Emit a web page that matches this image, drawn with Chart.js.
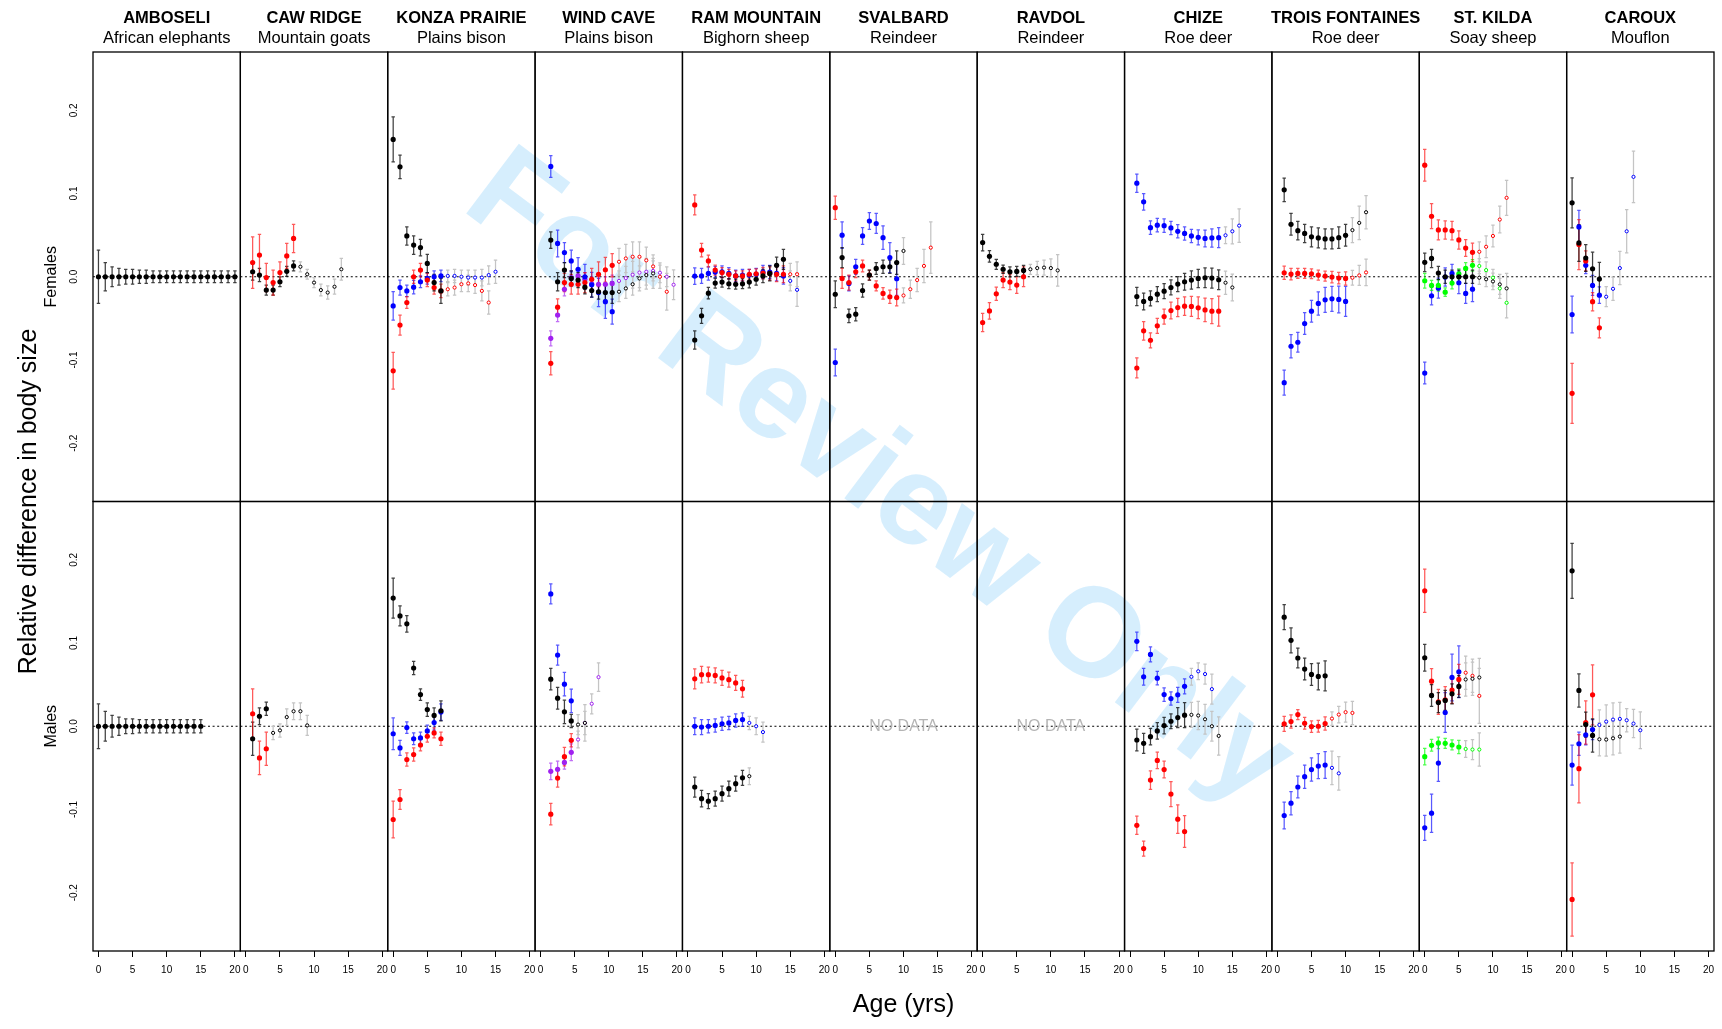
<!DOCTYPE html>
<html>
<head>
<meta charset="utf-8">
<title>Relative difference in body size by age</title>
<script src="https://cdn.jsdelivr.net/npm/chart.js@4.4.1/dist/chart.umd.min.js"></script>
<style>
  html, body { margin: 0; padding: 0; background: #fff; }
  #grid { display: block; }
</style>
</head>
<body>
<canvas id="grid" width="1722" height="1029"></canvas>
<script>
/* ---------- panels & axes ---------- */
const SITES   = ["AMBOSELI","CAW RIDGE","KONZA PRAIRIE","WIND CAVE","RAM MOUNTAIN","SVALBARD","RAVDOL","CHIZE","TROIS FONTAINES","ST. KILDA","CAROUX"];
const SPECIES = ["African elephants","Mountain goats","Plains bison","Plains bison","Bighorn sheep","Reindeer","Reindeer","Roe deer","Roe deer","Soay sheep","Mouflon"];
const SEXES   = ["Females","Males"];
const AGE_TICKS  = [0, 5, 10, 15, 20];
const SIZE_TICKS = [-0.2, -0.1, 0, 0.1, 0.2];
const NO_DATA_COLS = [5, 6];   // male rows without data

/* ---------- series: [age, mean, half CI] ----------
   "...Few" arrays are the ages with few animals (hollow points) */

// Amboseli
const ambF_k = [[0,0,.032],[1,0,.017],[2,0,.012],[3,0,.010],[4,0,.009],[5,0,.009],[6,0,.008],[7,0,.008],[8,0,.007],[9,0,.007],[10,0,.007],[11,0,.007],[12,0,.007],[13,0,.007],[14,0,.007],[15,0,.007],[16,0,.007],[17,0,.007],[18,0,.007],[19,0,.007],[20,0,.007]];
const ambM_k = [[0,0,.027],[1,0,.018],[2,0,.013],[3,0,.011],[4,0,.009],[5,0,.009],[6,0,.008],[7,0,.008],[8,0,.008],[9,0,.008],[10,0,.008],[11,0,.008],[12,0,.008],[13,0,.008],[14,0,.008],[15,0,.008]];

// Caw Ridge
const cawF_k    = [[1,.006,.010],[2,.002,.008],[3,-.016,.006],[4,-.016,.006],[5,-.006,.006],[6,.0065,.006],[7,.013,.006]];
const cawF_kFew = [[8,.012,.006],[9,.003,.006],[10,-.007,.006],[11,-.016,.007],[12,-.019,.008],[13,-.012,.009],[14,.009,.013]];
const cawF_r    = [[1,.017,.031],[2,.026,.025],[3,-.001,.017],[4,-.007,.015],[5,.005,.013],[6,.025,.015],[7,.046,.017]];
const cawM_k    = [[1,-.015,.020],[2,.012,.010],[3,.021,.008]];
const cawM_r    = [[1,.015,.030],[2,-.038,.020],[3,-.027,.020]];
const cawM_kFew = [[4,-.008,.008],[5,-.005,.008],[6,.011,.010],[7,.018,.010],[8,.018,.010],[9,.001,.012]];

// Konza Prairie
const konzaF_k    = [[0,.165,.027],[1,.132,.014],[2,.049,.011],[3,.038,.011],[4,.035,.010],[5,.016,.011],[6,-.007,.010],[7,-.017,.015]];
const konzaF_r    = [[0,-.113,.022],[1,-.058,.012],[2,-.031,.007],[3,0,.008],[4,.008,.008],[5,-.004,.008],[6,-.013,.008],[7,-.017,.008]];
const konzaF_rFew = [[8,-.015,.008],[9,-.013,.009],[10,-.009,.009],[11,-.008,.010],[12,-.010,.010],[13,-.017,.012],[14,-.031,.014]];
const konzaF_b    = [[0,-.035,.017],[1,-.013,.009],[2,-.017,.007],[3,-.0125,.008],[4,-.006,.007],[5,-.002,.007],[6,0,.007],[7,.001,.007]];
const konzaF_bFew = [[8,.001,.007],[9,.001,.008],[10,0,.008],[11,-.001,.009],[12,-.001,.009],[13,-.001,.010],[14,.002,.011],[15,.006,.014]];
const konzaM_k = [[0,.154,.024],[1,.1325,.012],[2,.123,.010],[3,.070,.008],[4,.038,.007],[5,.020,.008],[6,.013,.009],[7,.0185,.012]];
const konzaM_b = [[0,-.009,.019],[1,-.026,.009],[2,-.0016,.007],[3,-.015,.007],[4,-.014,.007],[5,-.0056,.007],[6,.0044,.009],[7,.017,.010]];
const konzaM_r = [[0,-.112,.022],[1,-.088,.012],[2,-.040,.008],[3,-.034,.008],[4,-.0225,.007],[5,-.012,.007],[6,-.008,.006],[7,-.015,.008]];

// Wind Cave
const windF_k    = [[1.5,.044,.010],[2.5,-.006,.011],[3.5,.008,.009],[4.5,-.002,.009],[5.5,-.004,.009],[6.5,-.0125,.008],[7.5,-.0165,.008],[8.5,-.018,.009],[9.5,-.019,.009],[10.5,-.019,.013]];
const windF_kFew = [[11.5,-.018,.012],[12.5,-.014,.012],[13.5,-.009,.013],[14.5,-.002,.015],[15.5,.002,.017],[16.5,.004,.018]];
const windF_b    = [[1.5,.1325,.013],[2.5,.040,.016],[3.5,.029,.012],[4.5,.019,.013],[5.5,.009,.014],[6.5,0,.015],[7.5,-.0096,.015],[8.5,-.019,.017],[9.5,-.030,.020],[10.5,-.042,.015]];
const windF_r    = [[1.5,-.104,.014],[2.5,-.0365,.010],[3.5,-.007,.011],[4.5,-.009,.012],[5.5,-.009,.012],[6.5,-.007,.012],[7.5,-.003,.013],[8.5,.003,.015],[9.5,.0084,.015],[10.5,.0137,.014]];
const windF_rFew = [[11.5,.018,.016],[12.5,.022,.017],[13.5,.024,.018],[14.5,.024,.018],[15.5,.0197,.016],[16.5,.0124,.014],[17.5,0,.014],[18.5,-.018,.022]];
const windF_p    = [[1.5,-.074,.009],[2.5,-.046,.008],[3.5,-.015,.008],[4.5,-.001,.008],[5.5,.001,.008],[6.5,-.003,.008],[7.5,-.0084,.008],[8.5,-.009,.009],[9.5,-.009,.009],[10.5,-.008,.010]];
const windF_pFew = [[11.5,-.005,.012],[12.5,-.0016,.014],[13.5,.0024,.016],[14.5,.005,.018],[15.5,.006,.016],[16.5,.007,.012],[17.5,.0048,.012],[18.5,0,.012],[19.5,-.0096,.018]];
const windM_b    = [[1.5,.159,.012],[2.5,.0855,.012],[3.5,.0506,.014],[4.5,.0305,.014]];
const windM_k    = [[1.5,.0566,.013],[2.5,.0337,.013],[3.5,.0173,.014],[4.5,.0064,.008]];
const windM_r    = [[1.5,-.1056,.013],[2.5,-.0622,.011],[3.5,-.0365,.011],[4.5,-.0169,.008]];
const windM_p    = [[1.5,-.0542,.010],[2.5,-.0518,.010],[3.5,-.0434,.008],[4.5,-.0313,.010]];
const windM_kFew = [[5.5,.002,.012],[6.5,.004,.014]];
const windM_pFew = [[5.5,-.016,.010],[6.5,.004,.022],[7.5,.027,.012],[8.5,.059,.017]];

// Ram Mountain
const ramF_r    = [[1,.0863,.012],[2,.032,.008],[3,.019,.007],[4,.008,.006],[5,.005,.006],[6,.003,.006],[7,.001,.006],[8,.001,.006],[9,.003,.006],[10,.0036,.006],[11,.0044,.007],[12,.004,.008],[13,.003,.009],[14,.003,.010]];
const ramF_rFew = [[15,.003,.013],[16,.003,.015]];
const ramF_b    = [[1,.0008,.010],[2,.001,.009],[3,.004,.008],[4,.0056,.007],[5,.006,.007],[6,.004,.007],[7,.001,.007],[8,.002,.007],[9,.002,.007],[10,.003,.007],[11,.0056,.008],[12,.0056,.008],[13,.004,.009],[14,.001,.010]];
const ramF_bFew = [[15,-.005,.012],[16,-.0157,.020]];
const ramF_k    = [[1,-.076,.011],[2,-.047,.009],[3,-.0197,.007],[4,-.0076,.006],[5,-.0064,.006],[6,-.0084,.006],[7,-.009,.006],[8,-.0084,.006],[9,-.0064,.007],[10,-.003,.007],[11,.001,.008],[12,.004,.009],[13,.0137,.010],[14,.021,.012]];
const ramM_r    = [[1,.057,.012],[2,.062,.010],[3,.062,.009],[4,.061,.009],[5,.058,.009],[6,.056,.009],[7,.052,.009],[8,.045,.010]];
const ramM_b    = [[1,0,.010],[2,-.001,.009],[3,0,.008],[4,.001,.008],[5,.003,.008],[6,.004,.008],[7,.007,.008],[8,.008,.008]];
const ramM_bFew = [[9,.004,.008],[10,0,.010],[11,-.007,.012]];
const ramM_k    = [[1,-.073,.012],[2,-.087,.010],[3,-.090,.009],[4,-.087,.009],[5,-.081,.009],[6,-.075,.009],[7,-.069,.009],[8,-.062,.009]];
const ramM_kFew = [[9,-.060,.010]];

// Svalbard
const svalF_r    = [[0,.083,.014],[1,-.002,.012],[2,-.007,.009],[3,.006,.007],[4,.013,.007],[5,.002,.006],[6,-.011,.006],[7,-.020,.007],[8,-.024,.008],[9,-.025,.010]];
const svalF_rFew = [[10,-.0225,.009],[11,-.015,.011],[12,-.004,.014],[13,.013,.020],[14,.035,.031]];
const svalF_b    = [[0,-.103,.016],[1,.050,.016],[2,-.008,.009],[3,.012,.009],[4,.049,.010],[5,.067,.010],[6,.064,.012],[7,.047,.014],[8,.023,.018],[9,-.0024,.020]];
const svalF_k    = [[0,-.021,.016],[1,.023,.012],[2,-.047,.008],[3,-.045,.008],[4,-.0165,.008],[5,.002,.006],[6,.010,.007],[7,.012,.008],[8,.012,.008],[9,.017,.014]];
const svalF_kFew = [[10,.031,.016]];

// Ravdol
const ravF_k    = [[0,.041,.010],[1,.0245,.007],[2,.015,.006],[3,.009,.005],[4,.006,.006],[5,.0064,.006],[6,.0076,.006]];
const ravF_kFew = [[7,.009,.006],[8,.0104,.008],[9,.011,.009],[10,.0104,.011],[11,.0076,.019]];
const ravF_r    = [[0,-.055,.011],[1,-.041,.010],[2,-.0205,.008],[3,-.004,.009],[4,-.0064,.009],[5,-.010,.010],[6,0,.012]];

// Chize
const chizeF_b    = [[1,.1124,.011],[2,.090,.010],[3,.059,.008],[4,.062,.008],[5,.0614,.008],[6,.0586,.008],[7,.0546,.008],[8,.052,.008],[9,.049,.008],[10,.0474,.009],[11,.046,.010],[12,.0466,.011],[13,.047,.012]];
const chizeF_bFew = [[14,.0498,.010],[15,.0546,.015],[16,.0614,.020]];
const chizeF_k    = [[1,-.0237,.011],[2,-.0297,.010],[3,-.026,.009],[4,-.0209,.009],[5,-.0173,.009],[6,-.0129,.009],[7,-.0088,.009],[8,-.006,.010],[9,-.004,.011],[10,-.002,.011],[11,-.0012,.012],[12,-.0016,.012],[13,-.0036,.012]];
const chizeF_kFew = [[14,-.0072,.014],[15,-.0129,.016]];
const chizeF_r    = [[1,-.1096,.012],[2,-.065,.011],[3,-.0763,.009],[4,-.059,.009],[5,-.0478,.009],[6,-.0406,.010],[7,-.037,.011],[8,-.0353,.011],[9,-.0357,.012],[10,-.0373,.013],[11,-.0398,.014],[12,-.0414,.015],[13,-.0414,.018]];
const chizeM_b    = [[1,.102,.011],[2,.0594,.010],[3,.0863,.009],[4,.0578,.008],[5,.038,.008],[6,.0333,.008],[7,.0378,.009],[8,.048,.009]];
const chizeM_bFew = [[9,.0594,.010],[10,.066,.010],[11,.0627,.012],[12,.0446,.018]];
const chizeM_k    = [[1,-.0165,.013],[2,-.0205,.012],[3,-.0125,.010],[4,-.0056,.010],[5,.0008,.010],[6,.006,.009],[7,.0104,.012],[8,.0133,.015]];
const chizeM_kFew = [[9,.0137,.015],[10,.0129,.017],[11,.0084,.018],[12,0,.018],[13,-.0116,.023]];
const chizeM_r    = [[1,-.119,.011],[2,-.147,.009],[3,-.0647,.011],[4,-.041,.010],[5,-.052,.010],[6,-.0815,.015],[7,-.1116,.017],[8,-.1265,.019]];

// Trois Fontaines
const troisF_k    = [[1,.1044,.014],[2,.063,.013],[3,.0554,.011],[4,.052,.011],[5,.048,.012],[6,.0466,.012],[7,.0454,.012],[8,.0454,.012],[9,.047,.013],[10,.0498,.013]];
const troisF_kFew = [[11,.056,.015],[12,.0647,.020],[13,.0775,.020]];
const troisF_r    = [[1,.0048,.008],[2,.0032,.007],[3,.004,.006],[4,.004,.006],[5,.0036,.006],[6,.002,.006],[7,.0008,.006],[8,-.0004,.007],[9,-.0016,.007],[10,-.002,.008]];
const troisF_rFew = [[11,-.0012,.009],[12,.0016,.012],[13,.0052,.016]];
const troisF_b    = [[1,-.1273,.015],[2,-.0835,.014],[3,-.0787,.012],[4,-.0562,.013],[5,-.0414,.013],[6,-.0321,.014],[7,-.0277,.015],[8,-.0265,.015],[9,-.0273,.016],[10,-.0297,.018]];
const troisM_k    = [[1,.131,.015],[2,.1032,.015],[3,.082,.012],[4,.0687,.013],[5,.0622,.013],[6,.0598,.016],[7,.0606,.018]];
const troisM_r    = [[1,.0028,.009],[2,.0056,.008],[3,.014,.006],[4,.0036,.007],[5,-.0004,.007],[6,0,.007],[7,.0032,.008]];
const troisM_rFew = [[8,.0092,.008],[9,.014,.010],[10,.0169,.012],[11,.016,.014]];
const troisM_b    = [[1,-.1072,.016],[2,-.0924,.014],[3,-.073,.013],[4,-.0606,.014],[5,-.052,.014],[6,-.0478,.015],[7,-.0466,.016]];
const troisM_bFew = [[8,-.050,.020],[9,-.0566,.020]];

// St. Kilda
const kildaF_r    = [[0,.134,.019],[1,.0727,.015],[2,.0562,.012],[3,.0562,.011],[4,.0554,.011],[5,.0442,.011],[6,.0345,.010],[7,.0293,.011]];
const kildaF_rFew = [[8,.030,.012],[9,.036,.013],[10,.049,.013],[11,.0687,.016],[12,.0948,.021]];
const kildaF_k    = [[0,.0173,.011],[1,.022,.011],[2,.0044,.008],[3,0,.008],[4,0,.008],[5,0,.008],[6,0,.008],[7,0,.008]];
const kildaF_kFew = [[8,-.0012,.008],[9,-.003,.009],[10,-.0056,.010],[11,-.0092,.012],[12,-.014,.018]];
const kildaF_g    = [[0,-.0048,.009],[1,-.0104,.006],[2,-.0104,.007],[3,-.0185,.005],[4,-.0076,.007],[5,.0036,.006],[6,.010,.007],[7,.0137,.007]];
const kildaF_gFew = [[8,.0129,.009],[9,.008,.010],[10,-.0012,.010],[11,-.014,.012],[12,-.0313,.018]];
const kildaF_b    = [[0,-.1157,.013],[1,-.0229,.011],[2,-.0137,.012],[3,-.0004,.011],[4,.004,.011],[5,-.0072,.013],[6,-.020,.012],[7,-.0149,.015]];
const kildaM_r    = [[0,.1627,.026],[1,.0542,.015],[2,.0293,.015],[3,.0317,.016],[4,.0434,.016],[5,.0562,.018]];
const kildaM_rFew = [[6,.0643,.020],[7,.0606,.020],[8,.0365,.033]];
const kildaM_k    = [[0,.0823,.016],[1,.037,.013],[2,.0285,.012],[3,.031,.012],[4,.039,.012],[5,.0478,.013]];
const kildaM_kFew = [[6,.0562,.020],[7,.057,.020],[8,.0586,.023]];
const kildaM_b    = [[0,-.122,.015],[1,-.1044,.023],[2,-.0442,.022],[3,.0165,.024],[4,.0586,.028],[5,.0655,.031]];
const kildaM_g    = [[0,-.0365,.010],[1,-.0229,.007],[2,-.020,.007],[3,-.0205,.006],[4,-.0225,.006],[5,-.0249,.008]];
const kildaM_gFew = [[6,-.0273,.010],[7,-.028,.012],[8,-.028,.020]];

// Caroux
const carouxF_k    = [[0,.0888,.030],[1,.0406,.022],[2,.0225,.016],[3,.0096,.020],[4,-.0028,.020]];
const carouxF_b    = [[0,-.0454,.022],[1,.0598,.020],[2,.0137,.010],[3,-.0104,.012],[4,-.0221,.010]];
const carouxF_bFew = [[5,-.024,.012],[6,-.0145,.014],[7,.0104,.020],[8,.0546,.026],[9,.120,.031]];
const carouxF_r    = [[0,-.140,.036],[1,.0386,.030],[2,.019,.012],[3,-.030,.011],[4,-.0614,.012]];
const carouxM_k    = [[0,.1867,.033],[1,.043,.020],[2,.002,.015],[3,-.011,.020]];
const carouxM_kFew = [[4,-.0157,.020],[5,-.016,.020],[6,-.0145,.020],[7,-.0124,.020]];
const carouxM_r    = [[0,-.208,.044],[1,-.051,.041],[2,.0044,.026],[3,.0378,.036]];
const carouxM_b    = [[0,-.0466,.024],[1,-.021,.014],[2,-.0104,.012],[3,-.004,.012]];
const carouxM_bFew = [[4,.0016,.018],[5,.0056,.020],[6,.008,.020],[7,.0088,.020],[8,.0072,.014],[9,.0032,.017],[10,-.0048,.022]];

/* ---------- styling ---------- */
const INK  = { k: "#000000", r: "#ff0000", b: "#0000ff", p: "#a020f0", g: "#00ff00" };
const BARS = { k: "rgba(0,0,0,0.75)", r: "rgba(255,0,0,0.65)", b: "rgba(0,0,255,0.65)", p: "rgba(160,32,240,0.65)", g: "rgba(0,255,0,0.7)" };
const FEW_BAR = "#c4c4c4";
const FONT = "'Liberation Sans', Arial, Helvetica, sans-serif";

// [column, row (0 = females, 1 = males), colour, solid series, few-animal series]
const layers = [
  [0,0,"k",ambF_k,null], [0,1,"k",ambM_k,null],
  [1,0,"r",cawF_r,null], [1,0,"k",cawF_k,cawF_kFew],
  [1,1,"r",cawM_r,null], [1,1,"k",cawM_k,cawM_kFew],
  [2,0,"k",konzaF_k,null], [2,0,"r",konzaF_r,konzaF_rFew], [2,0,"b",konzaF_b,konzaF_bFew],
  [2,1,"k",konzaM_k,null], [2,1,"r",konzaM_r,null], [2,1,"b",konzaM_b,null],
  [3,0,"k",windF_k,windF_kFew], [3,0,"r",windF_r,windF_rFew], [3,0,"b",windF_b,null], [3,0,"p",windF_p,windF_pFew],
  [3,1,"k",windM_k,windM_kFew], [3,1,"r",windM_r,null], [3,1,"b",windM_b,null], [3,1,"p",windM_p,windM_pFew],
  [4,0,"k",ramF_k,null], [4,0,"r",ramF_r,ramF_rFew], [4,0,"b",ramF_b,ramF_bFew],
  [4,1,"k",ramM_k,ramM_kFew], [4,1,"r",ramM_r,null], [4,1,"b",ramM_b,ramM_bFew],
  [5,0,"k",svalF_k,svalF_kFew], [5,0,"r",svalF_r,svalF_rFew], [5,0,"b",svalF_b,null],
  [6,0,"k",ravF_k,ravF_kFew], [6,0,"r",ravF_r,null],
  [7,0,"k",chizeF_k,chizeF_kFew], [7,0,"r",chizeF_r,null], [7,0,"b",chizeF_b,chizeF_bFew],
  [7,1,"k",chizeM_k,chizeM_kFew], [7,1,"r",chizeM_r,null], [7,1,"b",chizeM_b,chizeM_bFew],
  [8,0,"k",troisF_k,troisF_kFew], [8,0,"r",troisF_r,troisF_rFew], [8,0,"b",troisF_b,null],
  [8,1,"k",troisM_k,null], [8,1,"r",troisM_r,troisM_rFew], [8,1,"b",troisM_b,troisM_bFew],
  [9,0,"k",kildaF_k,kildaF_kFew], [9,0,"r",kildaF_r,kildaF_rFew], [9,0,"g",kildaF_g,kildaF_gFew], [9,0,"b",kildaF_b,null],
  [9,1,"k",kildaM_k,kildaM_kFew], [9,1,"r",kildaM_r,kildaM_rFew], [9,1,"g",kildaM_g,kildaM_gFew], [9,1,"b",kildaM_b,null],
  [10,0,"k",carouxF_k,null], [10,0,"r",carouxF_r,null], [10,0,"b",carouxF_b,carouxF_bFew],
  [10,1,"k",carouxM_k,carouxM_kFew], [10,1,"r",carouxM_r,null], [10,1,"b",carouxM_b,carouxM_bFew],
];

function makeSet(col, row, c, pts, few) {
  return {
    data: pts.map(p => ({ x: p[0], y: p[1], e: p[2] })),
    xAxisID: "x" + col,
    yAxisID: row ? "yM" : "yF",
    pointStyle: "circle",
    pointRadius: few ? 1.6 : 2.6,
    pointBorderWidth: few ? 1 : 0,
    pointBackgroundColor: few ? "#ffffff" : INK[c],
    pointBorderColor: INK[c],
    barColor: few ? FEW_BAR : BARS[c],
  };
}

// hollow points first so the filled ones sit on top (Chart.js paints the first dataset last)
const datasets = [];
layers.forEach(([col, row, c, solid]) => datasets.push(makeSet(col, row, c, solid, false)));
layers.forEach(([col, row, c, , few]) => { if (few) datasets.push(makeSet(col, row, c, few, true)); });

/* ---------- scales: 11 x axes side by side, 2 y axes stacked ---------- */
const scales = {};
SITES.forEach((s, i) => {
  scales["x" + i] = {
    type: "linear", position: "bottom", stack: "cols", stackWeight: 1, weight: i,
    min: -0.8, max: 20.8,
    afterBuildTicks: sc => { sc.ticks = AGE_TICKS.map(v => ({ value: v })); },
    afterFit: sc => { sc.height = 6; },
    ticks: { display: false },
    grid: { drawOnChartArea: false, drawTicks: true, tickLength: 6, tickColor: "#000", tickWidth: 1 },
    border: { display: false },
  };
});
["yF", "yM"].forEach((id, r) => {
  scales[id] = {
    type: "linear", position: "left", stack: "rows", stackWeight: 1, weight: 1 - r,
    min: -0.27, max: 0.27,
    afterBuildTicks: sc => { sc.ticks = SIZE_TICKS.map(v => ({ value: v })); },
    afterFit: sc => { sc.width = 0; },
    ticks: { display: false },
    grid: { display: false, drawTicks: false },
    border: { display: false },
  };
});

/* ---------- frames, zero lines, error bars and text ---------- */
const panelArt = {
  id: "panelArt",
  beforeDatasetsDraw(chart) {
    const g = chart.ctx;

    // watermark
    g.save();
    g.translate(878, 480);
    g.rotate(37 * Math.PI / 180);
    g.font = `bold 127px ${FONT}`;
    g.fillStyle = "rgba(135,206,250,0.34)";
    g.textAlign = "center";
    g.textBaseline = "middle";
    g.fillText("For Review Only", 0, 0);
    g.restore();

    // panel frames and dotted zero lines
    g.save();
    SITES.forEach((s, i) => {
      const xs = chart.scales["x" + i];
      ["yF", "yM"].forEach(id => {
        const ys = chart.scales[id];
        const y0 = ys.getPixelForValue(0);
        g.setLineDash([2, 2.6]);
        g.strokeStyle = "#000";
        g.lineWidth = 1;
        g.beginPath(); g.moveTo(xs.left, y0); g.lineTo(xs.right, y0); g.stroke();
        g.setLineDash([]);
        g.lineWidth = 1.3;
        g.strokeRect(xs.left, ys.top, xs.right - xs.left, ys.bottom - ys.top);
      });
    });
    g.restore();

    // error bars, few-animal ones first
    g.save();
    g.lineWidth = 1.25;
    const order = chart.data.datasets.map((d, i) => i).reverse();
    order.forEach(i => {
      const ds = chart.data.datasets[i];
      const meta = chart.getDatasetMeta(i);
      const ys = chart.scales[ds.yAxisID];
      g.strokeStyle = ds.barColor;
      meta.data.forEach((pt, j) => {
        const d = ds.data[j];
        const lo = ys.getPixelForValue(d.y - d.e);
        const hi = ys.getPixelForValue(d.y + d.e);
        g.beginPath();
        g.moveTo(pt.x, lo); g.lineTo(pt.x, hi);
        g.moveTo(pt.x - 1.7, lo); g.lineTo(pt.x + 1.7, lo);
        g.moveTo(pt.x - 1.7, hi); g.lineTo(pt.x + 1.7, hi);
        g.stroke();
      });
    });
    g.restore();
  },
  afterDraw(chart) {
    const g = chart.ctx;
    const ca = chart.chartArea;
    g.save();
    g.fillStyle = "#000";
    g.textAlign = "center";
    g.textBaseline = "middle";

    SITES.forEach((s, i) => {
      const xs = chart.scales["x" + i];
      const cx = (xs.left + xs.right) / 2;
      g.font = `bold 16.5px ${FONT}`;
      g.fillText(s, cx, 18);
      g.font = `16.5px ${FONT}`;
      g.fillText(SPECIES[i], cx, 38.5);
      // age tick labels
      g.font = `10px ${FONT}`;
      xs.ticks.forEach(t => g.fillText(String(t.value), xs.getPixelForValue(t.value), xs.top + 19));
    });

    ["yF", "yM"].forEach((id, r) => {
      const ys = chart.scales[id];
      g.font = `10px ${FONT}`;
      ys.ticks.forEach(t => {
        g.save();
        g.translate(74, ys.getPixelForValue(t.value));
        g.rotate(-Math.PI / 2);
        g.fillText(t.value.toFixed(1), 0, 0);
        g.restore();
      });
      g.save();
      g.translate(52, ys.getPixelForValue(0));
      g.rotate(-Math.PI / 2);
      g.font = `16px ${FONT}`;
      g.fillText(SEXES[r], 0, 0);
      g.restore();
    });

    // missing male panels
    g.fillStyle = "#b4b4b4";
    g.font = `16px ${FONT}`;
    NO_DATA_COLS.forEach(c => {
      const xs = chart.scales["x" + c];
      g.fillText("NO DATA", (xs.left + xs.right) / 2, chart.scales.yM.getPixelForValue(0));
    });

    // axis titles
    g.fillStyle = "#000";
    g.font = `25px ${FONT}`;
    g.fillText("Age (yrs)", (ca.left + ca.right) / 2, 1005);
    g.save();
    g.translate(29, (ca.top + ca.bottom) / 2);
    g.rotate(-Math.PI / 2);
    g.fillText("Relative difference in body size", 0, 0);
    g.restore();
    g.restore();
  }
};

new Chart(document.getElementById("grid"), {
  type: "scatter",
  data: { datasets },
  options: {
    responsive: false,
    devicePixelRatio: 1,
    animation: false,
    events: [],
    layout: { padding: { top: 52, left: 93, right: 8, bottom: 72 } },
    scales,
    plugins: { legend: { display: false }, tooltip: { enabled: false }, title: { display: false } },
  },
  plugins: [panelArt],
});
</script>
</body>
</html>
